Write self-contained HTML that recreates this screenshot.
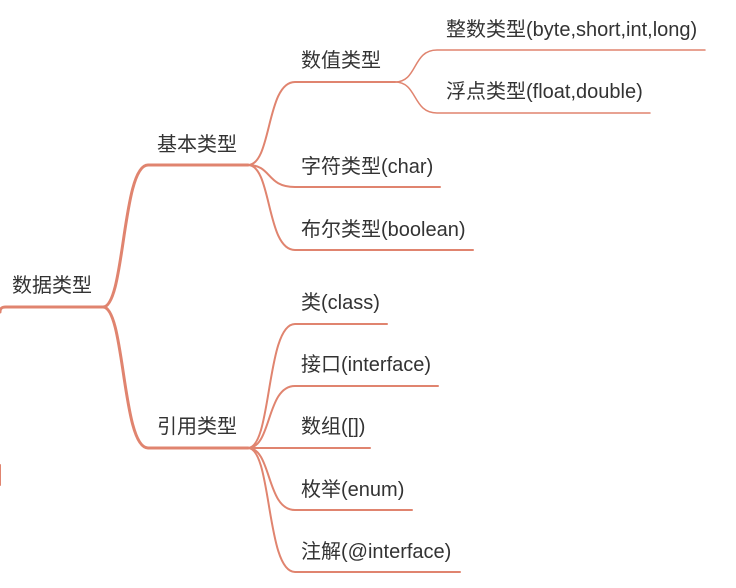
<!DOCTYPE html>
<html><head><meta charset="utf-8"><style>
html,body{margin:0;padding:0;background:#fff;width:736px;height:588px;overflow:hidden}
svg text{font-family:"Liberation Sans","Noto Sans CJK SC",sans-serif;font-size:20px;fill:#333}
path{fill:none;stroke:#e0846f;stroke-linecap:round}
</style></head><body>
<svg width="736" height="588" viewBox="0 0 736 588" xmlns="http://www.w3.org/2000/svg">
<g stroke-width="3">
<path d="M0 312 C0 308 2 307 6 307 L103 307"/>
<path d="M103 307 C125 307 122 165 148 165 L248 165"/>
<path d="M103 307 C125 307 122 448 148 448 L248 448"/>
<path d="M0 465 L0 485" stroke-width="2"/>
</g>
<g stroke-width="2">
<path d="M248 165 C272 165 266 82 295 82 L395 82"/>
<path d="M248 165 C272 165 266 187 295 187 L440 187"/>
<path d="M248 165 C272 165 266 250 295 250 L473 250"/>
<path d="M248 448 C272 448 266 324 295 324 L387 324"/>
<path d="M248 448 C272 448 266 386 295 386 L438 386"/>
<path d="M248 448 L370 448"/>
<path d="M248 448 C272 448 266 510 295 510 L412 510"/>
<path d="M248 448 C272 448 266 572 295 572 L460 572"/>
</g>
<g stroke-width="1.5">
<path d="M395 82 C418 82 412 50 437 50 L705 50"/>
<path d="M395 82 C418 82 412 113 437 113 L650 113"/>
</g>
<text x="12" y="292">数据类型</text>
<text x="157" y="151">基本类型</text>
<text x="157" y="433">引用类型</text>
<text x="301" y="67">数值类型</text>
<text x="301" y="173">字符类型(char)</text>
<text x="301" y="236">布尔类型(boolean)</text>
<text x="446" y="36">整数类型(byte,short,int,long)</text>
<text x="446" y="98">浮点类型(float,double)</text>
<text x="301" y="309">类(class)</text>
<text x="301" y="371">接口(interface)</text>
<text x="301" y="433">数组([])</text>
<text x="301" y="496">枚举(enum)</text>
<text x="301" y="558">注解(@interface)</text>
</svg>
</body></html>
